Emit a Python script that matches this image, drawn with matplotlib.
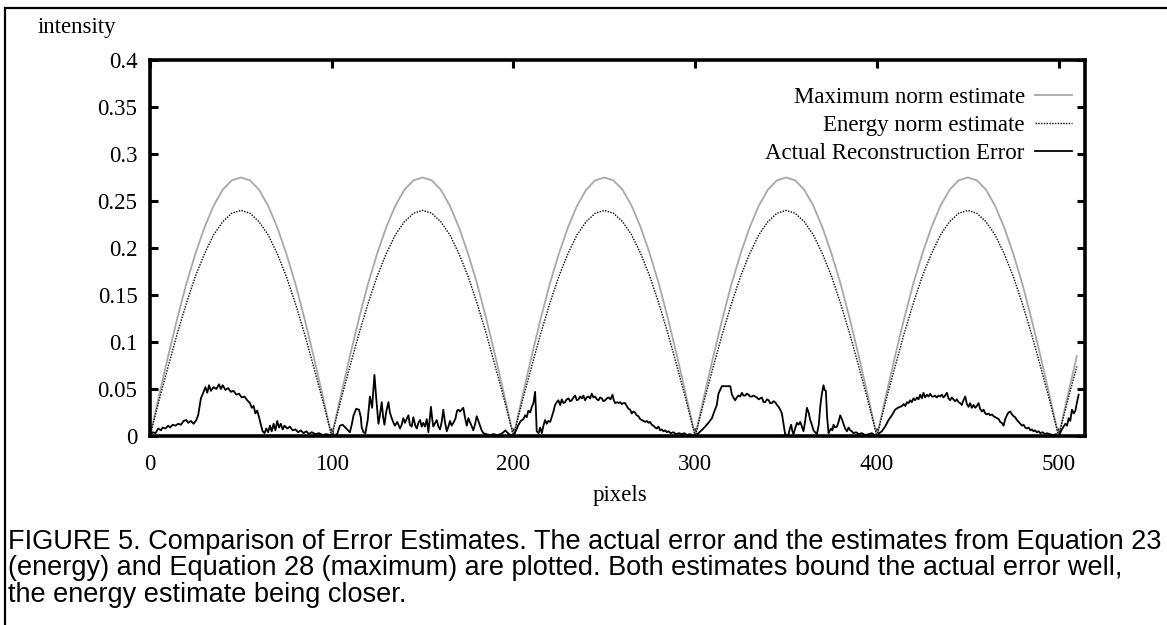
import matplotlib.pyplot as plt
import numpy as np
from matplotlib.patches import Rectangle

# --- estimates, sampled every 5 pixels (0..510) ---
est_x = np.arange(0, 511, 5)
max_est = [
    0, .043, .085, .125, .162, .194, .222, .245, .262, .272, .275, .272, .262, .245, .222, .194, .162, .125, .085, .043,
    0, .043, .085, .125, .162, .194, .222, .245, .262, .272, .275, .272, .262, .245, .222, .194, .162, .125, .085, .043,
    0, .043, .085, .125, .162, .194, .222, .245, .262, .272, .275, .272, .262, .245, .222, .194, .162, .125, .085, .043,
    0, .043, .085, .125, .162, .194, .222, .245, .262, .272, .275, .272, .262, .245, .222, .194, .162, .125, .085, .043,
    0, .043, .085, .125, .162, .194, .222, .245, .262, .272, .275, .272, .262, .245, .222, .194, .162, .125, .085, .043,
    0, .043, .085,
]
energy_est = [
    0, .038, .074, .109, .141, .170, .194, .214, .228, .237, .240, .237, .228, .214, .194, .170, .141, .109, .074, .038,
    0, .038, .074, .109, .141, .170, .194, .214, .228, .237, .240, .237, .228, .214, .194, .170, .141, .109, .074, .038,
    0, .038, .074, .109, .141, .170, .194, .214, .228, .237, .240, .237, .228, .214, .194, .170, .141, .109, .074, .038,
    0, .038, .074, .109, .141, .170, .194, .214, .228, .237, .240, .237, .228, .214, .194, .170, .141, .109, .074, .038,
    0, .038, .074, .109, .141, .170, .194, .214, .228, .237, .240, .237, .228, .214, .194, .170, .141, .109, .074, .038,
    0, .038, .074,
]

# --- actual reconstruction error in 5 pieces ---
err_x_a = [0, 1.5, 3, 4.5, 6, 7, 8.5, 10, 11, 12.5,
           14, 15.5, 17, 18.5, 20, 21, 22.5, 24, 25.5, 26.5,
           28, 29.5, 30.5, 31.5, 32.5, 33.5, 35, 36.5, 38, 39,
           40, 41.5, 43, 44.5, 46, 47.5, 49, 50.5, 52, 53.5,
           55, 56, 57, 58, 59, 60, 61, 62, 63, 64,
           65, 66, 67, 68, 69, 70, 71, 72, 73, 74,
           75.5, 77, 78.5, 80, 81.5, 83, 84.5, 86, 87.5, 89,
           91, 93, 95, 97, 99, 100]
err_y_a = [0.001, 0.004, 0.003, 0.008, 0.006, 0.009, 0.008, 0.011, 0.009, 0.012,
           0.011, 0.013, 0.012, 0.016, 0.017, 0.014, 0.016, 0.013, 0.017, 0.022,
           0.040, 0.047, 0.052, 0.046, 0.054, 0.048, 0.052, 0.050, 0.055, 0.050,
           0.054, 0.049, 0.051, 0.047, 0.048, 0.044, 0.045, 0.041, 0.042, 0.038,
           0.035, 0.030, 0.032, 0.024, 0.027, 0.020, 0.012, 0.005, 0.003, 0.008,
           0.004, 0.011, 0.005, 0.013, 0.006, 0.016, 0.009, 0.013, 0.007, 0.011,
           0.008, 0.010, 0.006, 0.007, 0.004, 0.006, 0.003, 0.005, 0.002, 0.004,
           0.002, 0.003, 0.001, 0.002, 0.001, 0.000]

err_x_b = [101.5, 103, 104.5, 106, 107.5, 109, 110, 111, 112, 113.5,
           115, 116, 116.5, 117.5, 118.5, 119.8, 121, 122.2, 123.5, 124.5,
           125.7, 126.5, 127.5, 128.3, 129, 130, 131.2, 132, 133, 134,
           134.8, 136, 137.6, 138.5, 139.4, 140.3, 141.2, 142.2, 143, 144,
           144.9, 146, 146.8, 147.7, 148.6, 149.5, 150.4, 151.3, 152.3, 153.2,
           154.6, 155.3, 155.9, 157, 157.8, 158.7, 159.6, 160.5, 161.4, 162.3,
           163.3, 164.2, 165.1, 166, 166.9, 168, 169, 169.7, 170.6, 171.5,
           172.4, 173.3, 174.3, 175.2, 176, 176.7, 177.9, 178.8, 179.8, 180.7,
           181.6, 182.5, 183.5, 185, 187, 189, 191, 193, 194.5, 195.5,
           196.5, 197.5, 199, 200]
err_y_b = [0.001, 0.002, 0.011, 0.012, 0.009, 0.006, 0.004, 0.012, 0.022, 0.029,
           0.028, 0.020, 0.009, 0.004, 0.003, 0.017, 0.042, 0.030, 0.065, 0.040,
           0.013, 0.022, 0.036, 0.020, 0.012, 0.026, 0.036, 0.025, 0.019, 0.014,
           0.011, 0.015, 0.008, 0.012, 0.019, 0.014, 0.018, 0.022, 0.012, 0.010,
           0.020, 0.011, 0.008, 0.014, 0.017, 0.010, 0.014, 0.010, 0.018, 0.004,
           0.031, 0.018, 0.010, 0.014, 0.017, 0.010, 0.007, 0.015, 0.028, 0.015,
           0.005, 0.010, 0.016, 0.011, 0.014, 0.018, 0.027, 0.028, 0.026, 0.028,
           0.030, 0.020, 0.011, 0.019, 0.015, 0.012, 0.006, 0.012, 0.021, 0.016,
           0.011, 0.006, 0.003, 0.002, 0.001, 0.002, 0.001, 0.002, 0.004, 0.006,
           0.004, 0.002, 0.001, 0.000]

err_x_c = [201, 202.5, 204, 205.5, 206.4, 207.3, 208.2, 209.2, 210.1, 211,
           211.9, 212.3, 212.8, 213.8, 214.7, 215.6, 216.5, 217.4, 218.3, 219.2,
           220.2, 221, 222, 222.9, 223.8, 224.7, 225.7, 226.6, 227.5, 228.4,
           229.3, 230.3, 231.2, 232.1, 233, 233.9, 234.9, 235.8, 236.7, 237.6,
           238.5, 239.4, 240.3, 241.3, 242.2, 243.1, 244, 244.9, 245.9, 246.8,
           247.7, 248.6, 249.5, 250.4, 251.4, 252.3, 253.4, 254.5, 255.2, 256,
           257, 257.8, 258.7, 259.6, 260.5, 261.4, 262.3, 263.3, 264.2, 265.1,
           266, 266.9, 267.8, 268.8, 269.7, 270.6, 271.5, 272.5, 273.4, 274.3,
           275.2, 276.1, 277, 278, 278.9, 279.8, 280.7, 281.6, 282.5, 283.5,
           284.4, 285.3, 286.5, 288, 289.5, 291, 292.6, 294, 295.5, 297,
           298.5, 300]
err_y_c = [0.004, 0.011, 0.016, 0.018, 0.022, 0.020, 0.027, 0.025, 0.031, 0.035,
           0.047, 0.030, 0.005, 0.003, 0.009, 0.003, 0.011, 0.017, 0.013, 0.016,
           0.015, 0.020, 0.026, 0.033, 0.036, 0.038, 0.033, 0.039, 0.035, 0.036,
           0.039, 0.040, 0.037, 0.038, 0.041, 0.043, 0.038, 0.039, 0.042, 0.040,
           0.043, 0.038, 0.041, 0.042, 0.040, 0.045, 0.041, 0.042, 0.039, 0.038,
           0.041, 0.040, 0.037, 0.038, 0.040, 0.041, 0.039, 0.044, 0.038, 0.035,
           0.036, 0.035, 0.036, 0.034, 0.035, 0.035, 0.032, 0.029, 0.028, 0.024,
           0.026, 0.025, 0.022, 0.021, 0.018, 0.017, 0.016, 0.015, 0.016, 0.014,
           0.015, 0.012, 0.011, 0.009, 0.008, 0.010, 0.006, 0.007, 0.005, 0.006,
           0.004, 0.005, 0.003, 0.004, 0.002, 0.003, 0.002, 0.003, 0.001, 0.002,
           0.001, 0.000]

err_x_d = [301.8, 303.5, 305.5, 307.3, 309.2, 310.5, 311.9, 312.8, 314, 314.7,
           319.3, 320.2, 321, 322, 322.9, 323.8, 324.8, 325.7, 326.6, 327.5,
           328.4, 329.3, 330.2, 331.2, 332.1, 333, 333.9, 334.9, 335.8, 336.7,
           337.6, 338.5, 339.5, 340.4, 341.3, 342.2, 343.1, 344, 345, 345.9,
           346.8, 347.7, 348.6, 349.5, 350.5, 351.4, 352.1, 352.8, 353.5, 354.1,
           355, 356, 356.9, 357.8, 358.7, 359.6, 360.5, 361.5, 362.4, 363.3,
           364.2, 365.1, 366, 367, 368, 368.8, 369.7, 370.6, 371.2, 371.9,
           372.6, 373.4, 374.1, 374.9, 375.5, 376.1, 377, 378, 378.9, 379.8,
           380.7, 381.6, 382.5, 383.5, 384.4, 385.3, 386.2, 387.1, 388.5, 389.9,
           391.7, 393.6, 395.5, 397.2, 398.7, 400]
err_y_d = [0.003, 0.006, 0.010, 0.014, 0.019, 0.026, 0.033, 0.045, 0.050, 0.053,
           0.053, 0.044, 0.041, 0.038, 0.041, 0.043, 0.042, 0.046, 0.043, 0.043,
           0.045, 0.044, 0.042, 0.042, 0.043, 0.042, 0.041, 0.039, 0.040, 0.041,
           0.036, 0.036, 0.039, 0.038, 0.035, 0.035, 0.037, 0.036, 0.033, 0.031,
           0.028, 0.024, 0.013, 0.002, 0.001, 0.002, 0.008, 0.012, 0.005, 0.002,
           0.008, 0.014, 0.012, 0.015, 0.010, 0.005, 0.016, 0.030, 0.025, 0.017,
           0.012, 0.006, 0.004, 0.002, 0.012, 0.031, 0.045, 0.054, 0.049, 0.048,
           0.020, 0.003, 0.006, 0.008, 0.006, 0.012, 0.009, 0.010, 0.015, 0.022,
           0.018, 0.013, 0.008, 0.005, 0.009, 0.006, 0.005, 0.003, 0.004, 0.002,
           0.003, 0.001, 0.002, 0.003, 0.001, 0.000]

err_x_e = [401.3, 402.7, 404.5, 406.4, 408.2, 410, 411.5, 412.8, 413.8, 414.7,
           415.6, 416.5, 417.4, 418.3, 419.2, 420.1, 421, 422, 422.9, 423.8,
           424.7, 425.6, 426.5, 427.5, 428.4, 429.3, 430.2, 431.1, 432, 432.9,
           433.9, 434.8, 435.7, 436.6, 437.5, 438.5, 439.4, 440.3, 441.2, 442.1,
           443, 444, 444.9, 445.8, 446.7, 447.6, 448.6, 449.5, 450.4, 451.3,
           452.2, 453.2, 454.1, 455, 455.9, 456.8, 457.8, 458.7, 459.6, 460.5,
           461.4, 462.3, 463.3, 464.2, 465.1, 466, 467, 467.8, 468.7, 469.7,
           470.6, 471.5, 472.4, 473.4, 474.3, 475.2, 476.1, 477, 478, 478.9,
           479.8, 480.7, 481.6, 482.5, 483.5, 484.4, 485.3, 486.2, 487.1, 488,
           489, 489.9, 491.2, 492.5, 493.5, 495, 497.2, 498.5, 500, 501.5,
           502.7, 503.7, 504.6, 505.5, 506.4, 507.3, 508.3, 509.2, 510.1, 511]
err_y_e = [0.003, 0.005, 0.010, 0.017, 0.022, 0.028, 0.030, 0.031, 0.032, 0.034,
           0.032, 0.036, 0.035, 0.038, 0.036, 0.040, 0.038, 0.041, 0.039, 0.044,
           0.040, 0.046, 0.041, 0.044, 0.042, 0.045, 0.042, 0.042, 0.043, 0.041,
           0.043, 0.042, 0.044, 0.041, 0.043, 0.046, 0.040, 0.038, 0.041, 0.039,
           0.037, 0.039, 0.036, 0.035, 0.033, 0.038, 0.042, 0.034, 0.031, 0.035,
           0.030, 0.033, 0.030, 0.032, 0.035, 0.029, 0.026, 0.028, 0.024, 0.023,
           0.024, 0.022, 0.023, 0.021, 0.020, 0.019, 0.018, 0.015, 0.014, 0.011,
           0.018, 0.022, 0.025, 0.026, 0.023, 0.021, 0.020, 0.017, 0.015, 0.013,
           0.011, 0.012, 0.009, 0.008, 0.009, 0.006, 0.007, 0.005, 0.006, 0.004,
           0.005, 0.003, 0.004, 0.002, 0.003, 0.002, 0.001, 0.002, 0.000, 0.006,
           0.010, 0.013, 0.011, 0.019, 0.016, 0.028, 0.024, 0.027, 0.036, 0.044]

err_x = err_x_a + err_x_b + err_x_c + err_x_d + err_x_e
err_y = err_y_a + err_y_b + err_y_c + err_y_d + err_y_e

x_ticks = [0, 100, 200, 300, 400, 500]
y_ticks = [0, 0.05, 0.1, 0.15, 0.2, 0.25, 0.3, 0.35, 0.4]
y_tick_labels = ['0', '0.05', '0.1', '0.15', '0.2', '0.25', '0.3', '0.35', '0.4']

serif = 'Liberation Serif'
fs = 16.5

W, H = 1167, 625
fig = plt.figure(figsize=(W / 100, H / 100), dpi=100)
ax = fig.add_axes([150 / W, 1 - 436 / H, 935 / W, 376 / H])

ax.plot(est_x, max_est, color='#a8a8a8', lw=1.3, label='Maximum norm estimate')
ax.plot(est_x, energy_est, color='black', lw=1.0, linestyle=(0, (1, 1)), label='Energy norm estimate')
ax.plot(err_x, err_y, color='black', lw=1.3, label='Actual Reconstruction Error')

ax.set_xlim(0, 514.5)
ax.set_ylim(0, 0.4)
ax.set_xticks(x_ticks)
ax.set_xticklabels([str(t) for t in x_ticks], fontfamily=serif, fontsize=fs)
ax.set_yticks(y_ticks)
ax.set_yticklabels(y_tick_labels, fontfamily=serif, fontsize=fs)
ax.tick_params(direction='in', length=6, width=2.2, top=True, right=True)
ax.tick_params(axis='x', pad=13)
ax.tick_params(axis='y', pad=9)
for sp in ax.spines.values():
    sp.set_linewidth(2.6)

leg = ax.legend(loc='upper right', bbox_to_anchor=(0.998, 0.96), frameon=False,
                markerfirst=False, prop={'family': serif, 'size': fs},
                handlelength=1.6, handletextpad=0.45, labelspacing=0.31, borderpad=0)

fig.text(38 / W, 1 - 28 / H, 'intensity', fontfamily=serif, fontsize=fs, ha='left', va='center')
fig.text(620 / W, 1 - 496 / H, 'pixels', fontfamily=serif, fontsize=fs, ha='center', va='center')

caption = ("FIGURE 5. Comparison of Error Estimates. The actual error and the estimates from Equation 23\n"
           "(energy) and Equation 28 (maximum) are plotted. Both estimates bound the actual error well,\n"
           "the energy estimate being closer.")
fig.text(8 / W, 1 - 529 / H, caption, fontfamily='Liberation Sans', fontsize=19.55,
         ha='left', va='top', linespacing=1.02)

# page frame (only left and top edges visible)
fig.patches.append(Rectangle((5 / W, -0.1), 1.2, 1.1 - 8 / H, transform=fig.transFigure,
                             fill=False, lw=1.6, edgecolor='black'))

fig.savefig('out.png', dpi=100)
